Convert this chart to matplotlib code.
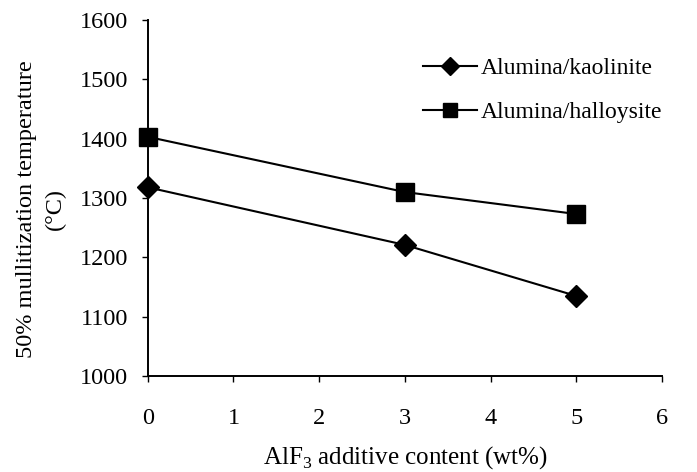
import matplotlib
matplotlib.use("Agg")
import matplotlib.pyplot as plt

plt.rcParams['font.family'] = ['Liberation Serif', 'DejaVu Serif']
plt.rcParams['mathtext.fontset'] = 'custom'
plt.rcParams['mathtext.rm'] = 'Liberation Serif'

x_vals = [0, 3, 5]
kaolinite = [1318, 1221, 1135]
halloysite = [1403, 1310, 1273]
labels = ['Alumina/kaolinite', 'Alumina/halloysite']

fig = plt.figure(figsize=(6.97, 4.72), dpi=100)
ax = fig.add_axes([0.212, 0.203, 0.738, 0.755])

ax.plot(x_vals, kaolinite, color='black', lw=1.5, marker='D', markersize=11, label=labels[0])
ax.plot(x_vals, halloysite, color='black', lw=1.5, marker='s', markersize=13, label=labels[1])

ax.set_xlim(0, 6)
ax.set_ylim(1000, 1600)
ax.set_xticks(range(0, 7))
ax.set_yticks(range(1000, 1601, 100))
for s in ['top', 'right']:
    ax.spines[s].set_visible(False)
for s in ['left', 'bottom']:
    ax.spines[s].set_linewidth(1.4)
ax.tick_params(axis='both', labelsize=17.5, length=4, width=1)
ax.tick_params(axis='x', pad=19)
ax.tick_params(axis='y', pad=10)
for l in ax.lines:
    l.set_clip_on(False)

ax.set_xlabel('AlF$_3$ additive content (wt%)', fontsize=18)
ax.xaxis.set_label_coords(0.5, -0.19)
ax.set_ylabel('50% mullitization temperature\n(°C)', fontsize=17.5, linespacing=1.45)
ax.yaxis.set_label_coords(-0.16, 0.47)

leg = ax.legend(loc='upper right', bbox_to_anchor=(1.018, 0.92), frameon=False, fontsize=17,
                handlelength=2.3, handletextpad=0.15, labelspacing=0.95, borderaxespad=0,
                markerscale=0.8)

fig.savefig('out.png', dpi=100)
